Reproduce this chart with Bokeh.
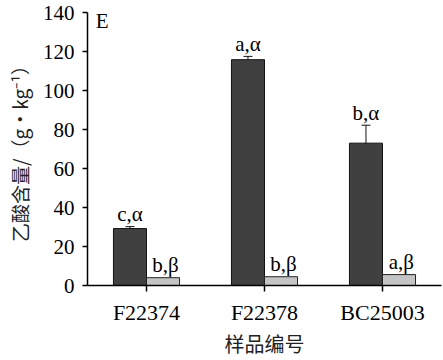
from bokeh.plotting import figure
from bokeh.models import ColumnDataSource, FactorRange, Range1d, Whisker, Label, FixedTicker
from bokeh.transform import dodge
from bokeh.core.properties import value
from bokeh.embed import file_html
from bokeh.resources import INLINE

samples = ["F22374", "F22378", "BC25003"]
dark_vals = [29.2, 115.8, 73.0]
dark_err = [1.0, 1.7, 9.2]
light_vals = [4.0, 4.5, 5.6]
dark_labels = ["c,α", "a,α", "b,α"]
light_labels = ["b,β", "b,β", "a,β"]
y_ticks = [0, 20, 40, 60, 80, 100, 120, 140]

SERIF = "Liberation Serif"
CJK = "Noto Sans CJK SC"

src_d = ColumnDataSource(dict(
    x=samples, top=dark_vals,
    upper=[v + e for v, e in zip(dark_vals, dark_err)],
    lower=[v - e for v, e in zip(dark_vals, dark_err)],
    lab=dark_labels,
))
src_l = ColumnDataSource(dict(x=samples, top=light_vals, lab=light_labels))

p = figure(x_range=FactorRange(*samples, range_padding=0), y_range=Range1d(0, 140),
           width=443, height=360, output_backend="svg", toolbar_location=None,
           min_border_left=87, min_border_right=2, min_border_top=12, min_border_bottom=74)

p.vbar(x=dodge("x", -0.14, range=p.x_range), top="top", width=0.28, source=src_d,
       fill_color="#404040", line_color="#111111", line_width=1)
p.vbar(x=dodge("x", 0.14, range=p.x_range), top="top", width=0.28, source=src_l,
       fill_color="#c4c4c4", line_color="#222222", line_width=1)

w = Whisker(source=src_d, base=dodge("x", -0.14, range=p.x_range), upper="upper", lower="lower",
            line_color="#111111", line_width=1)
w.upper_head.size = 9
w.lower_head.size = 9
w.upper_head.line_color = "#111111"
w.lower_head.line_color = "#111111"
p.add_layout(w)

p.text(x=dodge("x", -0.14, range=p.x_range), y=dodge("upper", 6.5, range=p.y_range),
       text="lab", source=src_d,
       text_font=value(SERIF), text_font_size="21px", text_align="center",
       text_baseline="alphabetic", text_color="black")
p.text(x=dodge("x", 0.16, range=p.x_range), y=dodge("top", 6.5, range=p.y_range),
       text="lab", source=src_l,
       text_font=value(SERIF), text_font_size="21px", text_align="center",
       text_baseline="alphabetic", text_color="black")

p.add_layout(Label(x=0.07, y=135.5, text="E", text_font=SERIF, text_font_size="21px",
                   text_baseline="middle", text_align="left", text_color="black"))

p.xgrid.grid_line_color = None
p.ygrid.grid_line_color = None
p.outline_line_color = None

p.yaxis.ticker = FixedTicker(ticks=y_ticks)
p.yaxis.axis_label = "乙酸含量/（g•kg⁻¹）"
p.yaxis.axis_label_text_font = CJK
p.yaxis.axis_label_text_font_style = "normal"
p.yaxis.axis_label_text_font_size = "19px"
p.yaxis.axis_label_standoff = 7
p.yaxis.major_label_text_font = SERIF
p.yaxis.major_label_text_font_size = "21px"
p.yaxis.major_tick_out = 5
p.yaxis.major_tick_in = 0
p.yaxis.minor_tick_line_color = None
p.yaxis.major_label_standoff = 8

p.xaxis.axis_label = "样品编号"
p.xaxis.axis_label_text_font = CJK
p.xaxis.axis_label_text_font_style = "normal"
p.xaxis.axis_label_text_font_size = "20px"
p.xaxis.axis_label_standoff = 1
p.xaxis.major_label_text_font = SERIF
p.xaxis.major_label_text_font_size = "22px"
p.xaxis.major_tick_out = 6
p.xaxis.major_tick_in = 0
p.xaxis.major_label_standoff = 8

for ax in (p.xaxis, p.yaxis):
    ax.axis_line_color = "black"
    ax.axis_line_width = 1.5
    ax.major_tick_line_color = "black"
    ax.major_tick_line_width = 1.5
    ax.major_label_text_color = "black"
    ax.axis_label_text_color = "#222222"

open("out.html", "w").write(file_html(p, INLINE))
